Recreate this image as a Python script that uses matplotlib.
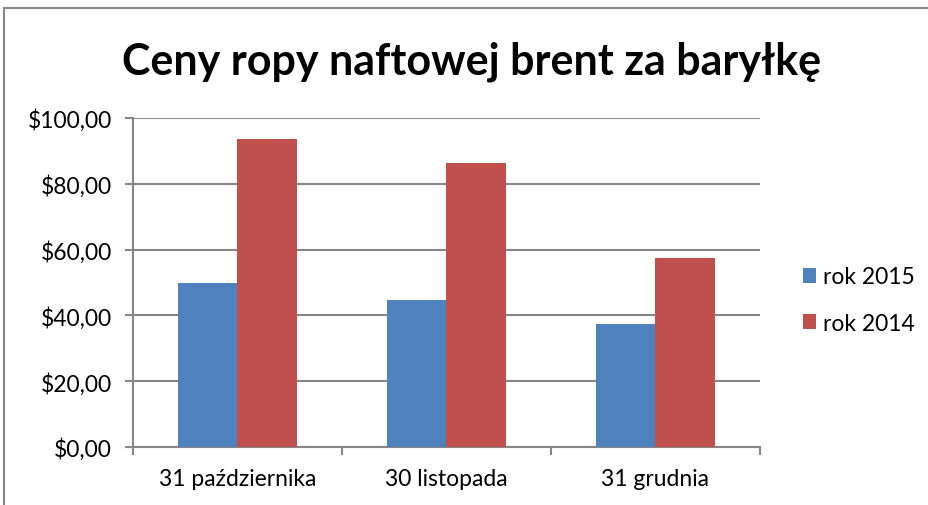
import numpy as np
from matplotlib import pyplot as plt
from matplotlib.lines import Line2D
from matplotlib.ticker import FuncFormatter

plt.rcParams['font.family'] = ['Lato', 'DejaVu Sans']

###dane
kategorie = ['31 października', '30 listopada', '31 grudnia']
ceny = {
    'rok 2015': [49.8, 44.7, 37.3],
    'rok 2014': [93.7, 86.2, 57.4],
}
kolory = {'rok 2015': '#4F81BD', 'rok 2014': '#C0504D'}
szary = '#868686'

fig = plt.figure(figsize=(9.29, 5.06), dpi=100)
ax = fig.add_axes([133/929, 1-448/506, (760-133)/929, (448-119)/506])

x = np.arange(len(kategorie))
w = 0.2857
for i, (nazwa, wart) in enumerate(ceny.items()):
    ax.bar(x + (i - 0.5) * w, wart, w, color=kolory[nazwa], label=nazwa, zorder=3)

ax.set_xlim(-0.5, len(kategorie) - 0.5)
ax.set_ylim(0, 100)
ax.set_yticks(range(0, 101, 20))
ax.yaxis.set_major_formatter(FuncFormatter(lambda v, p: '$%d,00' % v))
ax.grid(axis='y', color=szary, linewidth=1.5, zorder=0)

# kreski osi x na granicach kategorii
ax.set_xticks(np.arange(-0.5, len(kategorie), 1.0))
ax.set_xticklabels([])
ax.set_xticks(x, minor=True)
ax.set_xticklabels(kategorie, minor=True)
ax.tick_params(axis='x', which='minor', length=0, pad=15, labelsize=16.5)
ax.tick_params(axis='x', which='major', length=6, width=1.5, color=szary)
ax.tick_params(axis='y', length=6, width=1.5, color=szary, labelsize=16.5, pad=9)

for s in ['top', 'right']:
    ax.spines[s].set_visible(False)
for s in ['left', 'bottom']:
    ax.spines[s].set_color(szary)
    ax.spines[s].set_linewidth(1.5)

fig.text(472/929, 1-62/506, 'Ceny ropy naftowej brent za baryłkę',
         ha='center', va='center', fontsize=31, fontweight='bold')

ax.legend(loc='center left', bbox_to_anchor=(782/929, 1-301/506), bbox_transform=fig.transFigure,
          frameon=False, fontsize=16.5, handlelength=0.6, handleheight=0.6, handletextpad=0.3,
          labelspacing=1.1)

# ramka wykresu
fig.add_artist(Line2D([4/929, 4/929], [0, 1-9/506], transform=fig.transFigure, color=szary, lw=1.5))
fig.add_artist(Line2D([4/929, 1], [1-9/506, 1-9/506], transform=fig.transFigure, color=szary, lw=1.5))

plt.savefig('out.png', dpi=100)
